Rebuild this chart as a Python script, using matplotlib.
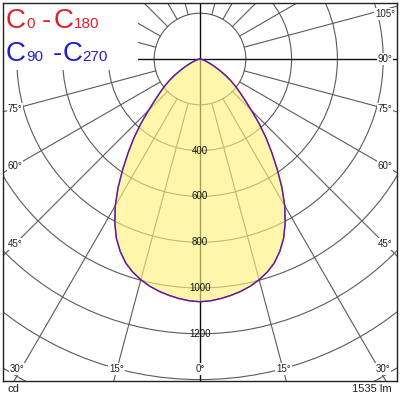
import numpy as np
import matplotlib
matplotlib.use("Agg")
import matplotlib.pyplot as plt
from matplotlib.patches import Circle, Rectangle

plt.rcParams['font.family'] = ['Liberation Sans', 'DejaVu Sans']

# luminous intensity (cd) per gamma angle, both C planes coincide
angles = [0, 2.5, 5, 7.5, 10, 12.5, 15, 17.5, 20, 22.5, 25, 27.5, 30, 32.5, 35, 37.5,
          40, 42.5, 45, 47.5, 50, 52.5, 55, 57.5, 60, 62.5, 65, 67.5, 70, 75, 80, 85, 90]
c0_c180 = [1060, 1057, 1050, 1041, 1030, 1016, 998, 976, 948, 910, 864, 806, 740, 666,
           588, 515, 448, 382, 318, 268, 228, 195, 163, 130, 98, 73, 53, 38, 27, 13, 5, 1.5, 0]
c90_c270 = [1060, 1057, 1050, 1041, 1030, 1016, 998, 976, 948, 910, 864, 806, 740, 666,
            588, 515, 448, 382, 318, 268, 228, 195, 163, 130, 98, 73, 53, 38, 27, 13, 5, 1.5, 0]

ring_values = [200, 400, 600, 800, 1000, 1200, 1400, 1600, 1800]
ring_labels = [400, 600, 800, 1000, 1200]
bottom_angle_labels = [0, 15, 30]
side_angle_labels_right = [45, 60, 75, 90, 105]
side_angle_labels_left = [45, 60, 75]
flux_text = "1535 lm"
unit_text = "cd"

# layout (pixels in a 400x400 figure)
W = H = 400
box_l, box_r, box_t, box_b = 3, 397, 3, 381
cx, cy = 200, 59
s = 0.229  # px per cd

fig = plt.figure(figsize=(4, 4), dpi=100)
ax = fig.add_axes([box_l / W, (H - box_b) / H, (box_r - box_l) / W, (box_b - box_t) / H])
ax.set_xlim((box_l - cx) / s, (box_r - cx) / s)
ax.set_ylim(-(box_b - cy) / s, (cy - box_t) / s)
ax.set_xticks([])
ax.set_yticks([])
for sp in ax.spines.values():
    sp.set_linewidth(1.0)
    sp.set_color("#222222")
    sp.set_zorder(10)

grid_c = "#5a5a5a"

# circles
for r in ring_values:
    ax.add_patch(Circle((0, 0), r, fill=False, edgecolor=grid_c, lw=0.8, zorder=1))

# radial lines starting on the first ring
for a in range(15, 180, 15):
    if a == 90:
        continue
    t = np.radians(a)
    for sgn in (-1, 1):
        ax.plot([sgn * 200 * np.sin(t), sgn * 3000 * np.sin(t)],
                [-200 * np.cos(t), -3000 * np.cos(t)],
                color=grid_c, lw=0.8, zorder=1)

# axes through the centre
ax.axhline(0, color="#111111", lw=1.0, zorder=1.5)
ax.axvline(0, color="#111111", lw=1.0, zorder=1.5)

# blank area behind the legend
xl = ax.get_xlim()
yl = ax.get_ylim()
ax.add_patch(Rectangle((xl[0], (cy - 70) / s), (138 - box_l) / s, yl[1] - (cy - 70) / s,
                       facecolor="white", edgecolor="none", zorder=2))

# distribution curve
def curve(vals):
    th = np.radians(np.concatenate([-np.array(angles[::-1]), np.array(angles[1:])]))
    iv = np.concatenate([np.array(vals[::-1]), np.array(vals[1:])])
    return iv * np.sin(th), -iv * np.cos(th)

x0, y0 = curve(c0_c180)
x1, y1 = curve(c90_c270)
ax.fill(x0, y0, color="#fff27a", alpha=0.62, lw=0, zorder=3)
ax.plot(x0, y0, color="#e41e26", lw=1.0, zorder=4)
ax.plot(x1, y1, color="#2020d8", lw=1.0, alpha=0.75, zorder=4.5)

# intensity labels
for v in ring_labels:
    ax.text(0, -v, str(v), ha="center", va="center", fontsize=7, color="#111111", zorder=6)

lab_kw = dict(ha="center", va="center", fontsize=7, color="#222222", zorder=6,
              bbox=dict(facecolor="white", edgecolor="none", pad=0.6))

# bottom angle labels
y_bot = -(box_b - cy) / s
for a in bottom_angle_labels:
    xs = [0] if a == 0 else [-1, 1]
    for sgn in xs:
        x = sgn * (box_b - cy) / s * np.tan(np.radians(a))
        ax.text(x - sgn * 3 / s, y_bot + 12 / s, f"{a}°", **lab_kw)

# side angle labels
x_side = (cx - 15) / s
y_top = (cy - 14) / s
for a, sgn in [(a, 1) for a in side_angle_labels_right] + [(a, -1) for a in side_angle_labels_left]:
    t = np.radians(a)
    y = -x_side * np.cos(t) / np.sin(t)
    y = min(y, y_top)
    ax.text(sgn * x_side, y, f"{a}°", **lab_kw)

# legend text, built piece by piece (text, size, gap before in px)
renderer = fig.canvas.get_renderer()

def legend_line(pieces, x_px, base_px, color):
    x = x_px
    for txt, size, gap in pieces:
        t = fig.text((x + gap) / W, 1 - base_px / H, txt, fontsize=size, color=color,
                     ha="left", va="baseline")
        bb = t.get_window_extent(renderer)
        x = bb.x1

legend_line([("C", 20, 0), ("0", 11, 0), ("-", 20, 7), ("C", 20, 3), ("180", 11, 0)],
            6, 28, "#e41e26")
legend_line([("C", 20, 0), ("90", 11, 0), ("-", 20, 10), ("C", 20, 0), ("270", 11, 0)],
            6, 61, "#2020d0")

fig.text(8 / W, 1 - 389 / H, unit_text, fontsize=8, color="#222222", ha="left", va="center")
fig.text(392 / W, 1 - 389 / H, flux_text, fontsize=8, color="#222222", ha="right", va="center")

fig.savefig("out.png", dpi=100)
